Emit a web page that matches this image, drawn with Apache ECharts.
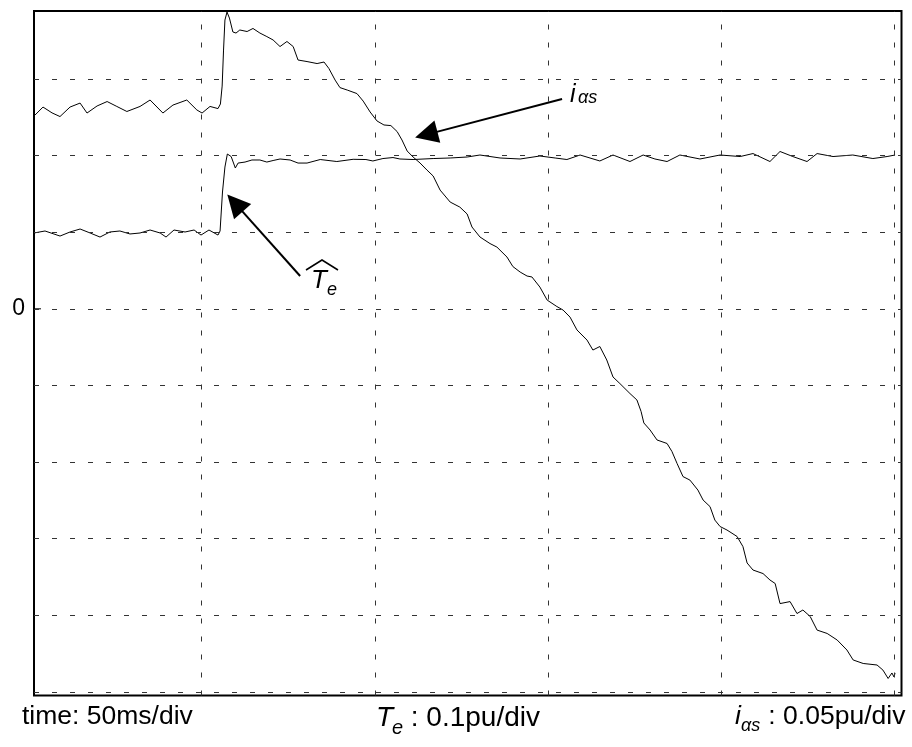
<!DOCTYPE html>
<html>
<head>
<meta charset="utf-8">
<script src="https://cdn.jsdelivr.net/npm/echarts@6/dist/echarts.min.js"></script>
<style>
html,body{margin:0;padding:0;background:#fff;}
#chart{width:912px;height:747px;}
</style>
</head>
<body>
<div id="chart"></div>
<script>
// ---- Data (time in ms, Te in pu, i_as in pu) ----
const teTime = [1.6,4.78,9.11,12.0,14.9,17.8,20.65,23.5,26.4,29.3,32.2,35.1,38.0,39.7,42.0,45.2,47.8,49.8,52.1,54.7,55.3,56.0,56.7,57.4,58.5,59.7,60.5,62.5,64.5,66.8,68.8,70.6,72.6,75.5,77.8,80.4,84.2,89.0,93.7,97.4,99.4,102.3,105.2,107.2,111.0,116.8,121.7,126.6,130.3,136.1,141.9,147.6,152.0,155.4,159.2,164.9,168.7,173.6,177.4,180.8,184.3,188.0,193.8,199.6,205.4,209.1,214.0,216.9,220.6,224.7,227.6,232.2,237.9,243.7,247.8,250.1];
const teValues = [0.0990,0.1016,0.0950,0.1003,0.1042,0.0990,0.0937,0.1003,0.1016,0.0977,0.0990,0.1029,0.0990,0.0937,0.1029,0.1003,0.1029,0.0963,0.1029,0.0963,0.1016,0.1525,0.1851,0.2021,0.1988,0.1838,0.1903,0.1916,0.1943,0.1943,0.1916,0.1936,0.1956,0.1943,0.1903,0.1903,0.1949,0.1923,0.1952,0.1949,0.1930,0.1962,0.1975,0.1956,0.1949,0.1962,0.1969,0.1982,0.2008,0.1969,0.1956,0.1995,0.1969,0.1949,0.2008,0.1930,0.2008,0.1923,0.2008,0.1956,0.1923,0.2008,0.1956,0.2008,0.1988,0.2027,0.1923,0.2054,0.1988,0.1923,0.2027,0.1988,0.2008,0.1962,0.1988,0.2008];

const iasTime = [1.9,4.2,6.8,9.1,12.0,14.9,16.9,19.8,22.7,25.5,28.4,32.2,35.1,38.8,41.7,45.7,48.6,50.1,52.4,54.7,55.4,55.9,56.3,56.7,57.3,58.0,59.0,59.9,61.0,63.1,64.8,66.8,68.8,70.6,72.6,74.6,76.4,77.8,80.4,83.3,85.3,86.7,88.5,89.9,92.0,94.8,96.6,98.6,100.6,102.6,104.6,106.4,107.8,109.3,111.0,113.0,115.0,116.8,118.8,121.7,124.5,126.6,128.0,130.3,133.2,135.2,138.1,139.8,141.9,143.9,145.3,147.6,149.7,152.5,154.3,156.3,158.3,161.2,162.9,164.9,166.9,168.7,170.7,173.6,175.6,176.8,177.6,179.4,181.4,184.3,185.7,187.2,188.9,190.9,193.2,194.7,196.7,198.1,199.6,201.6,204.5,206.2,207.4,209.1,212.0,214.0,215.5,216.9,219.8,221.8,223.5,225.6,227.6,230.5,233.4,236.2,238.0,240.9,244.9,246.6,248.1,249.2,249.8,250.1];
const iasValues = [0.1265,0.1317,0.1279,0.1255,0.1317,0.1343,0.1278,0.1324,0.1353,0.1321,0.1288,0.1321,0.1363,0.1278,0.1330,0.1363,0.1298,0.1278,0.1321,0.1307,0.1337,0.1454,0.1689,0.1885,0.1937,0.1898,0.1807,0.1800,0.1820,0.1810,0.1830,0.1800,0.1777,0.1755,0.1712,0.1745,0.1712,0.1624,0.1614,0.1601,0.1611,0.1569,0.1493,0.1444,0.1428,0.1405,0.1356,0.1285,0.1226,0.1200,0.1196,0.1157,0.1102,0.1030,0.0991,0.0952,0.0906,0.0867,0.0775,0.0697,0.0664,0.0619,0.0534,0.0469,0.0426,0.0403,0.0338,0.0276,0.0240,0.0214,0.0208,0.0142,0.0057,0.0015,-0.0008,-0.0054,-0.0138,-0.0204,-0.0269,-0.0246,-0.0334,-0.0445,-0.0488,-0.0553,-0.0595,-0.0670,-0.0745,-0.0791,-0.0856,-0.0879,-0.0931,-0.1010,-0.1095,-0.1118,-0.1183,-0.1248,-0.1291,-0.1379,-0.1421,-0.1444,-0.1486,-0.1552,-0.1659,-0.1705,-0.1728,-0.1770,-0.1793,-0.1924,-0.1911,-0.1989,-0.1966,-0.2008,-0.2097,-0.2119,-0.2162,-0.2227,-0.2292,-0.2315,-0.2325,-0.2358,-0.2413,-0.2377,-0.2403,-0.2377];

// grid divisions
const timeDivs = [50, 100, 150, 200, 250];          // 50 ms/div
const teDivs = [0.3, 0.2, 0.1, 0, -0.1, -0.2, -0.3, -0.4, -0.5]; // 0.1 pu/div
const zeroLabel = '0';

// annotation arrows (in time ms / i_as pu units): [start, head]
const arrowIas = [[154.0, 0.1370], [114.8, 0.1137]];
const arrowTe  = [[78.4, 0.0214], [59.6, 0.0690]];

// bottom captions
const captionTime = 'time: 50ms/div';
const captionTe = ' : 0.1pu/div';
const captionIas = ' : 0.05pu/div';

const FONT = '"Liberation Sans", Arial, Helvetica, sans-serif';

const chart = echarts.init(document.getElementById('chart'), null, {renderer: 'canvas'});

const gridLineStyle = {color: '#333', width: 1, type: [5, 13]};
const gridMarks = [];
timeDivs.forEach(v => gridMarks.push({xAxis: v}));
teDivs.forEach(v => gridMarks.push({yAxis: v}));

chart.setOption({
  animation: false,
  backgroundColor: '#fff',
  grid: {left: 34, right: 10.5, top: 11, bottom: 51.5, show: true,
         borderColor: '#000', borderWidth: 2, backgroundColor: 'transparent'},
  xAxis: {type: 'value', min: 1.6, max: 251.96, show: false},
  yAxis: [
    {type: 'value', min: -0.5048, max: 0.3888, show: false},
    {type: 'value', min: -0.2524, max: 0.1944, show: false}
  ],
  series: [
    {
      name: 'Te', type: 'line', yAxisIndex: 0, showSymbol: false, symbol: 'none',
      lineStyle: {color: '#000', width: 1}, z: 3,
      data: teTime.map((t, i) => [t, teValues[i]]),
      markLine: {
        silent: true, symbol: 'none', animation: false,
        label: {show: false},
        lineStyle: gridLineStyle,
        emphasis: {disabled: true},
        data: gridMarks
      }
    },
    {
      name: 'ias', type: 'line', yAxisIndex: 1, showSymbol: false, symbol: 'none',
      lineStyle: {color: '#000', width: 1}, z: 3,
      data: iasTime.map((t, i) => [t, iasValues[i]]),
      markLine: {
        silent: true, animation: false,
        symbol: ['none', 'triangle'], symbolSize: 23,
        label: {show: false},
        lineStyle: {color: '#000', width: 2, type: 'solid'},
        itemStyle: {color: '#000'},
        emphasis: {disabled: true},
        data: [
          [{coord: arrowIas[0]}, {coord: arrowIas[1]}],
          [{coord: arrowTe[0]}, {coord: arrowTe[1]}]
        ]
      }
    }
  ]
});

const zeroY = chart.convertToPixel({yAxisIndex: 0}, 0);
const leftX = chart.convertToPixel({xAxisIndex: 0}, 1.6);

chart.setOption({
  graphic: [
    // zero tick label
    {type: 'text', x: leftX - 9, y: zeroY, style: {text: zeroLabel, font: '23px ' + FONT, fill: '#000', align: 'right', verticalAlign: 'middle'}},
    // small solid tick at zero on left border
    {type: 'line', shape: {x1: leftX, y1: zeroY, x2: leftX + 7, y2: zeroY}, style: {stroke: '#000', lineWidth: 1}},
    // i_as annotation
    {type: 'text', x: 570, y: 95, style: {text: 'i', font: 'italic 25px ' + FONT, fill: '#000', verticalAlign: 'middle'}},
    {type: 'text', x: 578, y: 98, style: {text: 'αs', font: 'italic 18px ' + FONT, fill: '#000', verticalAlign: 'middle'}},
    // T_e hat annotation
    {type: 'polyline', shape: {points: [[306, 270], [322, 260], [338, 270]]}, style: {stroke: '#000', lineWidth: 1.5, fill: null}},
    {type: 'text', x: 311, y: 281, style: {text: 'T', font: 'italic 26px ' + FONT, fill: '#000', verticalAlign: 'middle'}},
    {type: 'text', x: 327, y: 290, style: {text: 'e', font: 'italic 18px ' + FONT, fill: '#000', verticalAlign: 'middle'}},
    // bottom captions
    {type: 'text', x: 22, y: 717, style: {text: captionTime, font: '26.5px ' + FONT, fill: '#000', verticalAlign: 'middle'}},
    {type: 'text', x: 376, y: 718, style: {text: 'T', font: 'italic 28px ' + FONT, fill: '#000', verticalAlign: 'middle'}},
    {type: 'text', x: 392, y: 728, style: {text: 'e', font: 'italic 20px ' + FONT, fill: '#000', verticalAlign: 'middle'}},
    {type: 'text', x: 403, y: 718, style: {text: captionTe, font: '28px ' + FONT, fill: '#000', verticalAlign: 'middle'}},
    {type: 'text', x: 735, y: 717, style: {text: 'i', font: 'italic 26.5px ' + FONT, fill: '#000', verticalAlign: 'middle'}},
    {type: 'text', x: 741, y: 726, style: {text: 'αs', font: 'italic 18px ' + FONT, fill: '#000', verticalAlign: 'middle'}},
    {type: 'text', x: 761, y: 717, style: {text: captionIas, font: '26.5px ' + FONT, fill: '#000', verticalAlign: 'middle'}}
  ]
});
</script>
</body>
</html>
